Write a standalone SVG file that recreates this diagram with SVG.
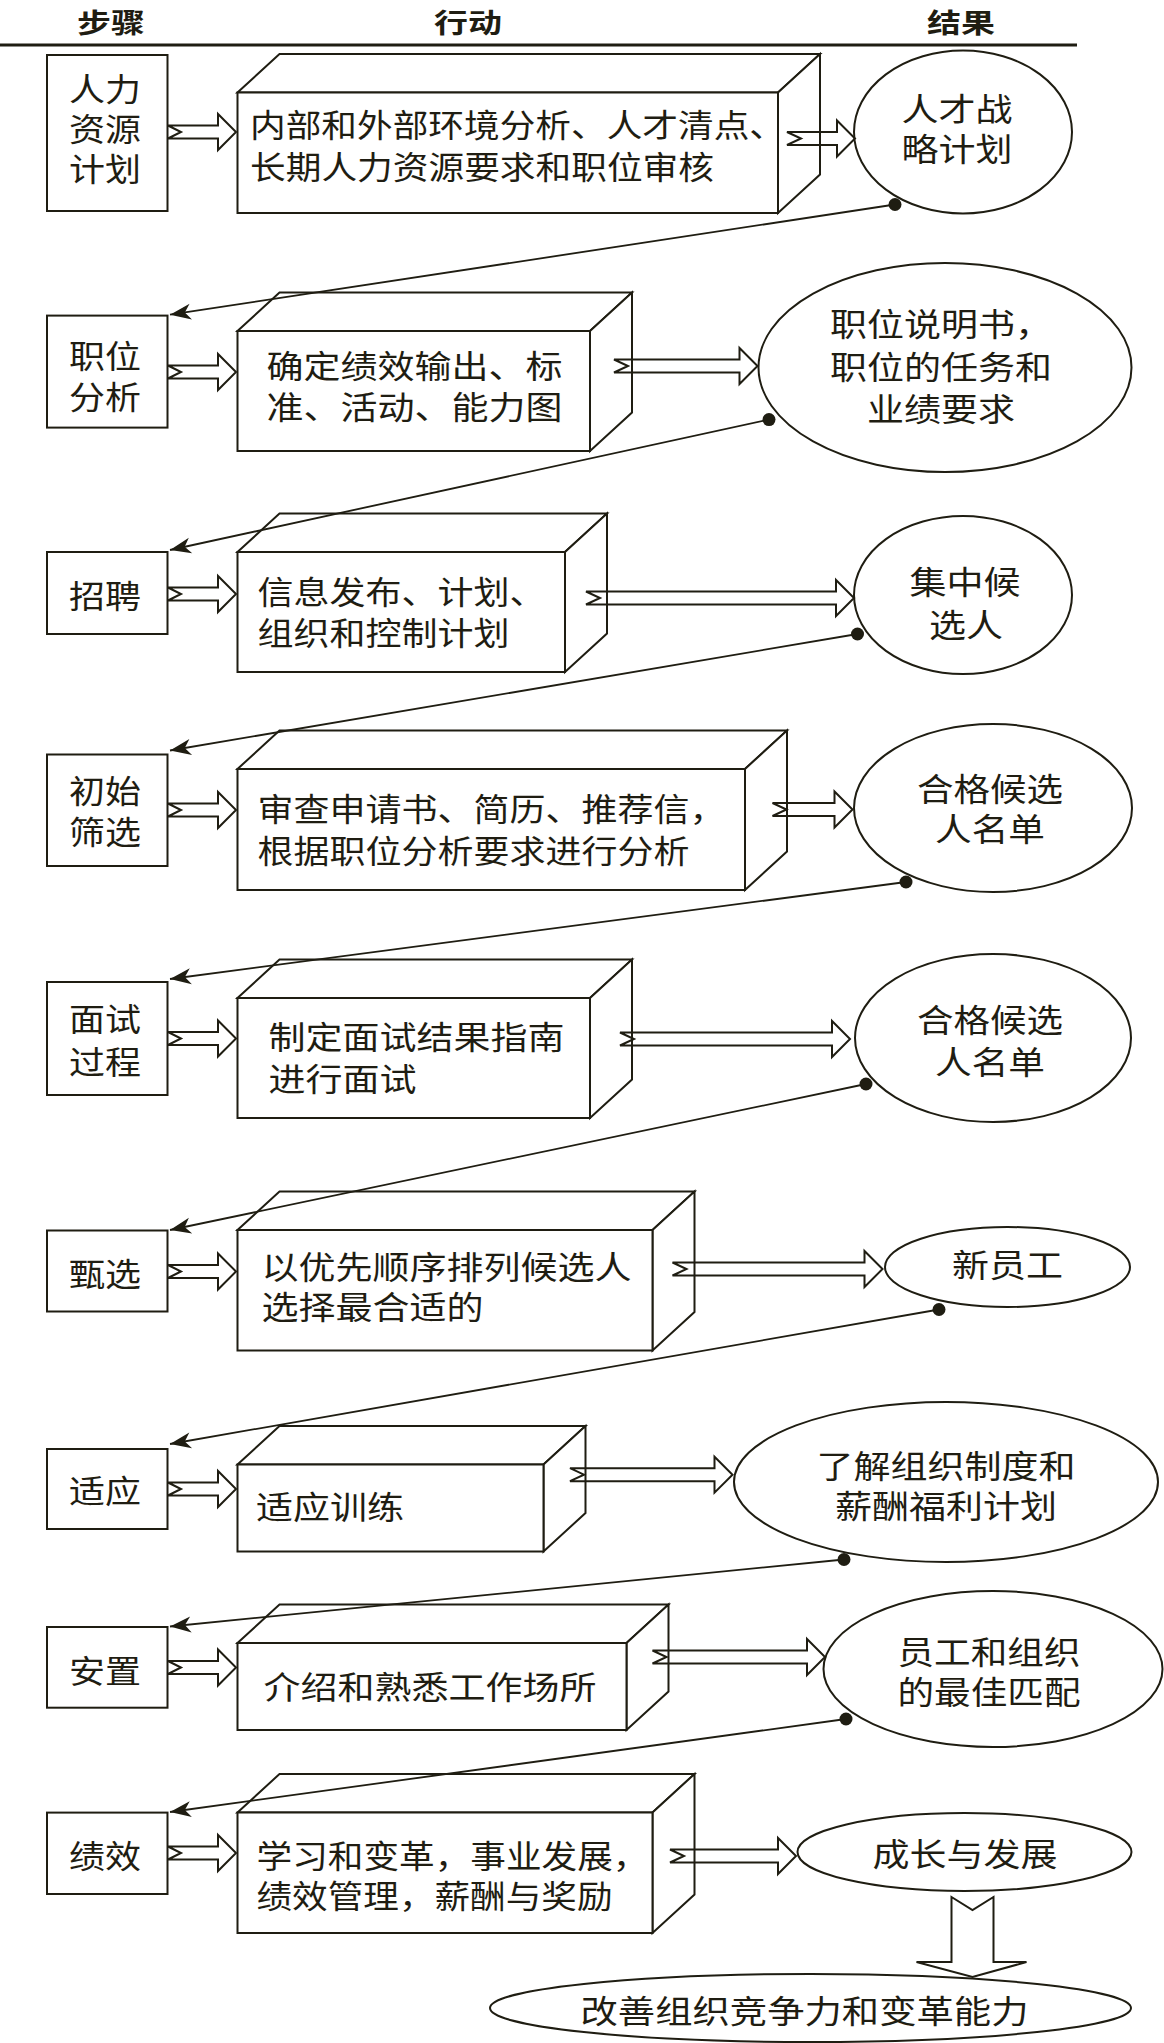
<svg xmlns="http://www.w3.org/2000/svg" xmlns:xlink="http://www.w3.org/1999/xlink" width="1164" height="2043" viewBox="0 0 1164 2043">
<style>
  .bg{fill:#ffffff}
  .box{fill:#ffffff;stroke:#1f1d12;stroke-width:2}
  .face{fill:#ffffff;stroke:#1f1d12;stroke-width:2;stroke-linejoin:miter}
  .ell{fill:#ffffff;stroke:#1f1d12;stroke-width:2}
  .barrow{fill:none;stroke:#1f1d12;stroke-width:2;stroke-linejoin:miter}
  .conn{fill:none;stroke:#1f1d12;stroke-width:1.8}
  .dot{fill:#1f1d12}
  .hdr{font-family:"Noto Sans CJK SC","Noto Sans",sans-serif;font-weight:bold;font-size:27px;fill:#1f1d12;text-anchor:middle;dominant-baseline:central}
  .t{font-family:"Noto Sans CJK SC","Noto Sans",sans-serif;font-size:32px;fill:#1f1d12;dominant-baseline:central}
  .c{text-anchor:middle}
</style>
<defs>
  <marker id="ah" viewBox="-22 -10 24 20" refX="0" refY="0" markerWidth="24" markerHeight="20" markerUnits="userSpaceOnUse" orient="auto">
    <path d="M0,0 L-21,-8 L-15,0 L-21,8 Z" fill="#1f1d12"/>
  </marker>
  <path id="stepArrow" class="barrow" d="M0,-6.5 H50 V-18 L68,0 L50,18 V6.5 H0 L13,0 Z"/>
</defs>
<rect class="bg" x="0" y="0" width="1164" height="2043"/>

<g id="header">
  <text class="hdr" x="111" y="21" textLength="68" lengthAdjust="spacingAndGlyphs">步骤</text>
  <text class="hdr" x="468" y="21" textLength="68" lengthAdjust="spacingAndGlyphs">行动</text>
  <text class="hdr" x="961" y="21" textLength="68" lengthAdjust="spacingAndGlyphs">结果</text>
  <line x1="0" y1="45" x2="1077" y2="45" stroke="#1f1d12" stroke-width="3"/>
</g>

<!-- Step nodes -->
<g id="step1">
  <rect class="box" x="47" y="55" width="120.5" height="156"/>
  <text class="t c" x="105" y="87" textLength="72" lengthAdjust="spacingAndGlyphs">人力</text>
  <text class="t c" x="105" y="126.5" textLength="72" lengthAdjust="spacingAndGlyphs">资源</text>
  <text class="t c" x="105" y="166.5" textLength="72" lengthAdjust="spacingAndGlyphs">计划</text>
</g>
<g id="step2">
  <rect class="box" x="47" y="315.6" width="120.5" height="112"/>
  <text class="t c" x="105" y="354" textLength="72" lengthAdjust="spacingAndGlyphs">职位</text>
  <text class="t c" x="105" y="395" textLength="72" lengthAdjust="spacingAndGlyphs">分析</text>
</g>
<g id="step3">
  <rect class="box" x="47" y="552" width="120.5" height="82"/>
  <text class="t c" x="105" y="594" textLength="72" lengthAdjust="spacingAndGlyphs">招聘</text>
</g>
<g id="step4">
  <rect class="box" x="47" y="754.5" width="120.5" height="111.5"/>
  <text class="t c" x="105" y="789" textLength="72" lengthAdjust="spacingAndGlyphs">初始</text>
  <text class="t c" x="105" y="829.5" textLength="72" lengthAdjust="spacingAndGlyphs">筛选</text>
</g>
<g id="step5">
  <rect class="box" x="47" y="982" width="120.5" height="113"/>
  <text class="t c" x="105" y="1017" textLength="72" lengthAdjust="spacingAndGlyphs">面试</text>
  <text class="t c" x="105" y="1059.5" textLength="72" lengthAdjust="spacingAndGlyphs">过程</text>
</g>
<g id="step6">
  <rect class="box" x="47" y="1230.5" width="120.5" height="81"/>
  <text class="t c" x="105" y="1272" textLength="72" lengthAdjust="spacingAndGlyphs">甄选</text>
</g>
<g id="step7">
  <rect class="box" x="47" y="1449" width="120.5" height="80"/>
  <text class="t c" x="105" y="1489" textLength="72" lengthAdjust="spacingAndGlyphs">适应</text>
</g>
<g id="step8">
  <rect class="box" x="47" y="1627" width="120.5" height="80.7"/>
  <text class="t c" x="105" y="1669" textLength="72" lengthAdjust="spacingAndGlyphs">安置</text>
</g>
<g id="step9">
  <rect class="box" x="47" y="1812.6" width="120.5" height="81.4"/>
  <text class="t c" x="105" y="1854" textLength="72" lengthAdjust="spacingAndGlyphs">绩效</text>
</g>

<!-- Action nodes (3D boxes) -->
<g id="action1">
  <polygon class="face" points="237.5,92.5 279.5,54 820,54 778,92.5"/>
  <polygon class="face" points="778,92.5 820,54 820,174.5 778,213"/>
  <rect class="box" x="237.5" y="92.5" width="540.5" height="120.5"/>
  <text class="t" x="250" y="123" textLength="535" lengthAdjust="spacingAndGlyphs">内部和外部环境分析、人才清点、</text>
  <text class="t" x="250" y="165" textLength="464" lengthAdjust="spacingAndGlyphs">长期人力资源要求和职位审核</text>
</g>
<g id="action2">
  <polygon class="face" points="237.5,331 279.5,292.5 632,292.5 590,331"/>
  <polygon class="face" points="590,331 632,292.5 632,412.5 590,451"/>
  <rect class="box" x="237.5" y="331" width="352.5" height="120"/>
  <text class="t" x="266.5" y="364" textLength="296" lengthAdjust="spacingAndGlyphs">确定绩效输出、标</text>
  <text class="t" x="266.5" y="405" textLength="296" lengthAdjust="spacingAndGlyphs">准、活动、能力图</text>
</g>
<g id="action3">
  <polygon class="face" points="237.5,552 279.5,513.5 607,513.5 565,552"/>
  <polygon class="face" points="565,552 607,513.5 607,633.5 565,672"/>
  <rect class="box" x="237.5" y="552" width="327.5" height="120"/>
  <text class="t" x="257.5" y="590" textLength="288" lengthAdjust="spacingAndGlyphs">信息发布、计划、</text>
  <text class="t" x="257.5" y="631" textLength="252" lengthAdjust="spacingAndGlyphs">组织和控制计划</text>
</g>
<g id="action4">
  <polygon class="face" points="237.5,769 279.5,730.5 787,730.5 745,769"/>
  <polygon class="face" points="745,769 787,730.5 787,851.5 745,890"/>
  <rect class="box" x="237.5" y="769" width="507.5" height="121"/>
  <text class="t" x="257.5" y="807" textLength="468" lengthAdjust="spacingAndGlyphs">审查申请书、简历、推荐信，</text>
  <text class="t" x="257.5" y="849" textLength="432" lengthAdjust="spacingAndGlyphs">根据职位分析要求进行分析</text>
</g>
<g id="action5">
  <polygon class="face" points="237.5,998 279.5,959.5 632,959.5 590,998"/>
  <polygon class="face" points="590,998 632,959.5 632,1079.5 590,1118"/>
  <rect class="box" x="237.5" y="998" width="352.5" height="120"/>
  <text class="t" x="268.5" y="1035" textLength="296" lengthAdjust="spacingAndGlyphs">制定面试结果指南</text>
  <text class="t" x="268.5" y="1077" textLength="148" lengthAdjust="spacingAndGlyphs">进行面试</text>
</g>
<g id="action6">
  <polygon class="face" points="237.5,1230 279.5,1191.5 694.5,1191.5 652.5,1230"/>
  <polygon class="face" points="652.5,1230 694.5,1191.5 694.5,1312 652.5,1350.5"/>
  <rect class="box" x="237.5" y="1230" width="415" height="120.5"/>
  <text class="t" x="261.5" y="1265" textLength="370" lengthAdjust="spacingAndGlyphs">以优先顺序排列候选人</text>
  <text class="t" x="261.5" y="1305" textLength="222" lengthAdjust="spacingAndGlyphs">选择最合适的</text>
</g>
<g id="action7">
  <polygon class="face" points="237.5,1464.5 279.5,1426 585.5,1426 543.5,1464.5"/>
  <polygon class="face" points="543.5,1464.5 585.5,1426 585.5,1513 543.5,1551.5"/>
  <rect class="box" x="237.5" y="1464.5" width="306" height="87"/>
  <text class="t" x="256" y="1505" textLength="148" lengthAdjust="spacingAndGlyphs">适应训练</text>
</g>
<g id="action8">
  <polygon class="face" points="237.5,1643 279.5,1604.5 668.5,1604.5 626.5,1643"/>
  <polygon class="face" points="626.5,1643 668.5,1604.5 668.5,1691.5 626.5,1730"/>
  <rect class="box" x="237.5" y="1643" width="389" height="87"/>
  <text class="t" x="263.5" y="1685" textLength="333" lengthAdjust="spacingAndGlyphs">介绍和熟悉工作场所</text>
</g>
<g id="action9">
  <polygon class="face" points="237.5,1812.5 279.5,1774 694.5,1774 652.5,1812.5"/>
  <polygon class="face" points="652.5,1812.5 694.5,1774 694.5,1894.5 652.5,1933"/>
  <rect class="box" x="237.5" y="1812.5" width="415" height="120.5"/>
  <text class="t" x="256.5" y="1854" textLength="392" lengthAdjust="spacingAndGlyphs">学习和变革，事业发展，</text>
  <text class="t" x="256.5" y="1894" textLength="356" lengthAdjust="spacingAndGlyphs">绩效管理，薪酬与奖励</text>
</g>

<!-- Result nodes -->
<g id="result1">
  <ellipse class="ell" cx="963" cy="132" rx="109" ry="81.5"/>
  <text class="t c" x="957" y="107" textLength="111" lengthAdjust="spacingAndGlyphs">人才战</text>
  <text class="t c" x="957" y="147" textLength="111" lengthAdjust="spacingAndGlyphs">略计划</text>
</g>
<g id="result2">
  <ellipse class="ell" cx="945" cy="367.5" rx="186.5" ry="104.5"/>
  <text class="t c" x="941" y="322" textLength="222" lengthAdjust="spacingAndGlyphs">职位说明书，</text>
  <text class="t c" x="941" y="365" textLength="222" lengthAdjust="spacingAndGlyphs">职位的任务和</text>
  <text class="t c" x="941" y="407" textLength="148" lengthAdjust="spacingAndGlyphs">业绩要求</text>
</g>
<g id="result3">
  <ellipse class="ell" cx="963" cy="595" rx="109" ry="79"/>
  <text class="t c" x="965" y="580" textLength="111" lengthAdjust="spacingAndGlyphs">集中候</text>
  <text class="t c" x="966" y="623" textLength="74" lengthAdjust="spacingAndGlyphs">选人</text>
</g>
<g id="result4">
  <ellipse class="ell" cx="993" cy="808" rx="139" ry="84"/>
  <text class="t c" x="990" y="787" textLength="146" lengthAdjust="spacingAndGlyphs">合格候选</text>
  <text class="t c" x="990" y="827" textLength="110" lengthAdjust="spacingAndGlyphs">人名单</text>
</g>
<g id="result5">
  <ellipse class="ell" cx="993" cy="1038" rx="138" ry="84"/>
  <text class="t c" x="990" y="1018" textLength="146" lengthAdjust="spacingAndGlyphs">合格候选</text>
  <text class="t c" x="990" y="1060" textLength="110" lengthAdjust="spacingAndGlyphs">人名单</text>
</g>
<g id="result6">
  <ellipse class="ell" cx="1007.5" cy="1267" rx="122.5" ry="40"/>
  <text class="t c" x="1007.5" y="1263" textLength="111" lengthAdjust="spacingAndGlyphs">新员工</text>
</g>
<g id="result7">
  <ellipse class="ell" cx="946" cy="1482" rx="212" ry="80"/>
  <text class="t c" x="946" y="1464" textLength="259" lengthAdjust="spacingAndGlyphs">了解组织制度和</text>
  <text class="t c" x="946" y="1504" textLength="222" lengthAdjust="spacingAndGlyphs">薪酬福利计划</text>
</g>
<g id="result8">
  <ellipse class="ell" cx="993" cy="1669" rx="169.5" ry="78"/>
  <text class="t c" x="989" y="1650" textLength="183" lengthAdjust="spacingAndGlyphs">员工和组织</text>
  <text class="t c" x="989" y="1690" textLength="183" lengthAdjust="spacingAndGlyphs">的最佳匹配</text>
</g>
<g id="result9">
  <ellipse class="ell" cx="964.5" cy="1852" rx="167" ry="39"/>
  <text class="t c" x="965" y="1852" textLength="185" lengthAdjust="spacingAndGlyphs">成长与发展</text>
</g>
<g id="result10">
  <ellipse class="ell" cx="810.5" cy="2008" rx="320.5" ry="34"/>
  <text class="t c" x="804.5" y="2009" textLength="448" lengthAdjust="spacingAndGlyphs">改善组织竞争力和变革能力</text>
</g>

<!-- Connectors -->
<g id="connectors">
  <!-- step -> action block arrows -->
  <use xlink:href="#stepArrow" transform="translate(168,132)"/>
  <use xlink:href="#stepArrow" transform="translate(168,372)"/>
  <use xlink:href="#stepArrow" transform="translate(168,594)"/>
  <use xlink:href="#stepArrow" transform="translate(168,810)"/>
  <use xlink:href="#stepArrow" transform="translate(168,1038.5)"/>
  <use xlink:href="#stepArrow" transform="translate(168,1271.5)"/>
  <use xlink:href="#stepArrow" transform="translate(168,1489)"/>
  <use xlink:href="#stepArrow" transform="translate(168,1667.5)"/>
  <use xlink:href="#stepArrow" transform="translate(168,1853)"/>
  <!-- action -> result block arrows -->
  <path class="barrow" transform="translate(787,138.5)" d="M0,-6.5 H50 V-18 L68,0 L50,18 V6.5 H0 L14,0 Z"/>
  <path class="barrow" transform="translate(614,366)" d="M0,-6.5 H125.5 V-18 L143.5,0 L125.5,18 V6.5 H0 L14,0 Z"/>
  <path class="barrow" transform="translate(586,598)" d="M0,-6.5 H250 V-18 L268,0 L250,18 V6.5 H0 L14,0 Z"/>
  <path class="barrow" transform="translate(772.5,809.5)" d="M0,-6.5 H62 V-18 L80,0 L62,18 V6.5 H0 L14,0 Z"/>
  <path class="barrow" transform="translate(620,1039)" d="M0,-6.5 H212 V-18 L230,0 L212,18 V6.5 H0 L14,0 Z"/>
  <path class="barrow" transform="translate(672.5,1269)" d="M0,-6.5 H192 V-18 L210,0 L192,18 V6.5 H0 L14,0 Z"/>
  <path class="barrow" transform="translate(570,1474.7)" d="M0,-6.5 H144.5 V-18 L162.5,0 L144.5,18 V6.5 H0 L14,0 Z"/>
  <path class="barrow" transform="translate(652.5,1657)" d="M0,-6.5 H154.5 V-18 L172.5,0 L154.5,18 V6.5 H0 L14,0 Z"/>
  <path class="barrow" transform="translate(670,1856)" d="M0,-6.5 H108 V-18 L126,0 L108,18 V6.5 H0 L14,0 Z"/>
  <!-- down arrow -->
  <path class="barrow" d="M951.5,1897 L972.5,1910 L993.5,1897 V1962 H1026.5 L972.5,1977 L916.5,1962 H951.5 Z"/>
  <!-- feedback connectors -->
  <line class="conn" x1="895" y1="204.5" x2="170" y2="314.7" marker-end="url(#ah)"/>
  <line class="conn" x1="769" y1="419.6" x2="170" y2="550" marker-end="url(#ah)"/>
  <line class="conn" x1="857.5" y1="634" x2="170" y2="750.5" marker-end="url(#ah)"/>
  <line class="conn" x1="906" y1="882" x2="170" y2="979" marker-end="url(#ah)"/>
  <line class="conn" x1="866" y1="1084" x2="170" y2="1230" marker-end="url(#ah)"/>
  <line class="conn" x1="939" y1="1309.5" x2="170" y2="1444" marker-end="url(#ah)"/>
  <line class="conn" x1="844" y1="1559.5" x2="170" y2="1626.5" marker-end="url(#ah)"/>
  <line class="conn" x1="846" y1="1719" x2="170" y2="1812" marker-end="url(#ah)"/>
  <circle class="dot" cx="895" cy="204.5" r="6.5"/>
  <circle class="dot" cx="769" cy="419.6" r="6.5"/>
  <circle class="dot" cx="857.5" cy="634" r="6.5"/>
  <circle class="dot" cx="906" cy="882" r="6.5"/>
  <circle class="dot" cx="866" cy="1084" r="6.5"/>
  <circle class="dot" cx="939" cy="1309.5" r="6.5"/>
  <circle class="dot" cx="844" cy="1559.5" r="6.5"/>
  <circle class="dot" cx="846" cy="1719" r="6.5"/>
</g>
</svg>
